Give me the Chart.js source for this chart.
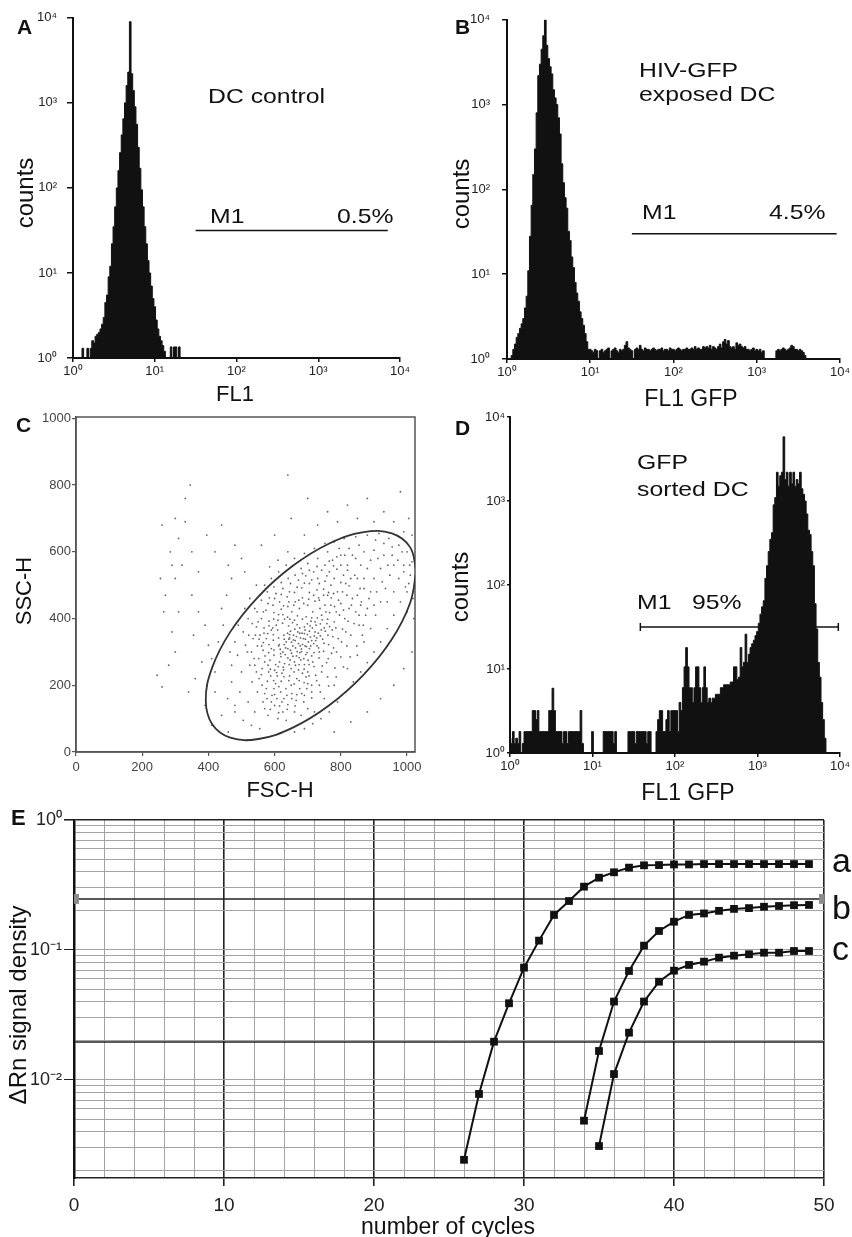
<!DOCTYPE html>
<html>
<head>
<meta charset="utf-8">
<script src="https://cdn.jsdelivr.net/npm/chart.js@4.4.0/dist/chart.umd.min.js"></script>
<style>
  body { margin: 0; background: #fff; }
  #fig { position: relative; width: 852px; height: 1237px; overflow: hidden;
         font-family: "Liberation Sans", Arial, Helvetica, sans-serif; color: #111; }
  #fig canvas { position: absolute; }
  .txt { position: absolute; line-height: 1; white-space: nowrap; }
  .letter { font-weight: bold; font-size: 21px; }
  .note { font-size: 21px; transform-origin: 0 0; transform: scaleX(1.18); }
  .ttl { transform: translate(-50%, -50%); }
  .rot { transform: translate(-50%, -50%) rotate(-90deg); }
  .curve { font-size: 34px; }
</style>
</head>
<body>
<div id="fig">
  <canvas id="chartA" width="426" height="400" style="left:0;top:0"></canvas>
  <canvas id="chartB" width="426" height="400" style="left:426px;top:0"></canvas>
  <canvas id="chartC" width="426" height="400" style="left:0;top:400px"></canvas>
  <canvas id="chartD" width="426" height="400" style="left:426px;top:400px"></canvas>
  <canvas id="chartE" width="852" height="437" style="left:0;top:800px"></canvas>

  <!-- panel A -->
  <div class="txt letter" style="left:17px;top:16px">A</div>
  <div class="txt note" style="left:208px;top:85px">DC control</div>
  <div class="txt note" style="left:210px;top:205px">M1</div>
  <div class="txt note" style="left:337px;top:205px">0.5%</div>
  <div class="txt rot" style="left:25px;top:193px;font-size:24px">counts</div>
  <div class="txt ttl" style="left:235px;top:394px;font-size:22px">FL1</div>

  <!-- panel B -->
  <div class="txt letter" style="left:455px;top:16px">B</div>
  <div class="txt note" style="left:639px;top:59px">HIV-GFP</div>
  <div class="txt note" style="left:639px;top:83px">exposed DC</div>
  <div class="txt note" style="left:642px;top:201px">M1</div>
  <div class="txt note" style="left:769px;top:201px">4.5%</div>
  <div class="txt rot" style="left:461px;top:194px;font-size:24px">counts</div>
  <div class="txt ttl" style="left:691px;top:398px;font-size:23px">FL1 GFP</div>

  <!-- panel C -->
  <div class="txt letter" style="left:16px;top:414px">C</div>
  <div class="txt rot" style="left:24px;top:591px;font-size:22px">SSC-H</div>
  <div class="txt ttl" style="left:280px;top:790px;font-size:22px">FSC-H</div>

  <!-- panel D -->
  <div class="txt letter" style="left:455px;top:417px">D</div>
  <div class="txt note" style="left:637px;top:451px">GFP</div>
  <div class="txt note" style="left:637px;top:478px">sorted DC</div>
  <div class="txt note" style="left:637px;top:591px">M1</div>
  <div class="txt note" style="left:692px;top:591px">95%</div>
  <div class="txt rot" style="left:460px;top:587px;font-size:24px">counts</div>
  <div class="txt ttl" style="left:688px;top:792px;font-size:23px">FL1 GFP</div>

  <!-- panel E -->
  <div class="txt letter" style="left:11px;top:807px;font-size:22px">E</div>
  <div class="txt curve" style="left:832px;top:843px">a</div>
  <div class="txt curve" style="left:832px;top:890px">b</div>
  <div class="txt curve" style="left:832px;top:931px">c</div>
  <div class="txt rot" style="left:18px;top:1005px;font-size:24px">ΔRn signal density</div>
  <div class="txt ttl" style="left:448px;top:1226px;font-size:23px">number of cycles</div>
</div>

<script>
//? DATA
// histograms: counts per bin, bins are BIN decades wide, first bin centre = start
const BIN = 0.02;

const histStartA = 0.10;
const histA = [1, 1.3, 1, 1, 1.3, 1, 1.3, 1.6, 1.5, 1.8,
    1.9, 2, 2.2, 2.5, 3, 4.5, 5.5, 9, 12, 22,
    35, 60, 100, 160, 260, 420, 650, 1000, 1600, 2300,
    9000, 2200, 1400, 900, 560, 300, 170, 95, 60, 35,
    22, 14, 10, 7, 5, 4, 2.8, 2.2, 1.8, 1.6,
    1.4, 1.2, 1, 1, 1, 1.35, 1, 1.35, 1.35, 1,
    1.35, 1];

const histStartB = 0.04;
const histB = [1, 1.1, 1.3, 1.5, 1.8, 2, 2.3, 2.6, 3, 4,
    5.5, 11, 28, 65, 150, 300, 800, 2200, 3000, 4500,
    6500, 10000, 5000, 3500, 2800, 2300, 1500, 1200, 1000, 700,
    450, 200, 120, 80, 60, 32, 25, 16, 12, 8,
    6, 4.8, 3.6, 3, 2.5, 2, 1.6, 1.3,
    1.3, 1.25, 1.2, 1.3, 1.25, 1, 1.25, 1.3, 1.2, 1.25,
    1.3, 1.35, 1, 1.25, 1.3, 1.35, 1.25, 1.2, 1.3, 1.25,
    1.3, 1.45, 1.6, 1.35, 1.3, 1.25, 1, 1.3, 1.35, 1.3,
    1.45, 1.3, 1.25, 1.35, 1.3, 1.3, 1.25, 1.3, 1.35, 1.3,
    1.25, 1.3, 1.3, 1.35, 1.25, 1.3, 1.3, 1.25, 1.35, 1.3,
    1.3, 1.25, 1.3, 1.35, 1.3, 1.25, 1.3, 1.3, 1.35, 1.3,
    1.3, 1.35, 1.3, 1.4, 1.3, 1.35, 1.3, 1.3, 1.4, 1.35,
    1.4, 1.35, 1.45, 1.3, 1.4, 1.35, 1.3, 1.4, 1.5, 1.35,
    1.6, 1.7, 1.5, 1.65, 1.4, 1.35, 1.4, 1.3, 1.55, 1.45,
    1.5, 1.4, 1.35, 1.4, 1.3, 1.3, 1.25, 1.3, 1.35, 1.25,
    1.3, 1.25, 1.3, 1.2, 1.25, 1, 1, 1, 1, 1,
    1, 1, 1.25, 1.3, 1.25, 1.3, 1.35, 1.3, 1.25, 1.3,
    1.35, 1.45, 1.4, 1.3, 1.3, 1.25, 1.3, 1.25, 1.2, 1.1,
    1];

const histStartD = 0.00;
const histD = [1.5, 1.3, 1.8, 1.3, 1.5,  1.3, 1.8, 1, 1.3, 1.8,
    1.8, 1.8, 1.8, 1.8, 3.2,  3.2, 2.5, 3.2, 1.8, 1.8,
    1.8, 1.8, 1.8, 1.8, 3.2,  3.2, 5.9, 3.2, 1.8, 1.8,
    1.8, 1.8, 1.3, 1.8, 1.8,  1.3, 1.8, 1.8, 1.8, 1.8,
    1.8, 1.8, 1.8, 3.2, 1.3,  1, 1, 1, 1, 1,
    1.8, 1, 1, 1, 1,  1, 1, 1.8, 1.8, 1.8,
    1.8, 1.8, 1.8, 1.3, 1.8,  1, 1, 1, 1, 1,
    1, 1, 1.8, 1.8, 1.8,  1.8, 1.3, 1.8, 1.8, 1.8,
    1.8, 1.8, 1.8, 1.3, 1.8,  1.8, 1, 1, 1, 1.8,
    2.5, 3.2, 3.2, 1.8, 1.8,  2.5, 3.2, 1.8, 3.2, 3.2,
    3.2, 3.2, 1.8, 4, 3.2,  6, 10.6, 18, 10.6, 6,
    6, 4, 6, 10.6, 10.6,  6, 4, 6, 10.6, 6,
    4, 4.5, 4, 4.5, 4.5,  5, 5, 5, 6, 6,
    6.5, 6.5, 6.5, 6.5, 7,  7, 10.6, 10.6, 7.5, 8,
    18, 10.6, 12, 26, 12,  15, 18, 20, 22, 25,
    28, 35, 45, 55, 65,  120, 170, 250, 350, 420,
    900, 1100, 2200, 1500, 2000,  2200, 5800, 1800, 2200, 1500,
    2200, 1600, 2200, 1500, 1800,  1600, 2200, 1400, 1200, 1000,
    700, 450, 400, 250, 170,  60, 30, 12, 8, 4,
    2.5, 1.5, 1];

// M1 gates (in decades) and their count level
const m1GateA = [1.5, 3.85];
const m1LevelA = 31.6;
const m1GateB = [1.5, 3.96];
const m1LevelB = 30;
const m1GateD = [1.58, 3.98];
const m1LevelD = 31.6;

// panel C: FSC-H / SSC-H events
const scatterC = [
  [612,318],[645,342],[668,301],[690,355],[702,330],[655,287],[630,265],[676,372],[720,348],[598,290],
  [640,310],[662,334],[684,322],[710,392],[650,250],[625,300],[688,280],[705,310],[670,360],[635,330],
  [600,245],[615,270],[660,395],[695,405],[725,380],[742,410],[580,260],[590,310],[648,362],[678,342],
  [698,298],[718,325],[732,356],[655,318],[640,282],[622,236],[608,228],[672,246],[690,262],[712,288],
  [735,300],[750,372],[760,398],[642,378],[628,350],[612,342],[596,335],[582,298],[570,270],[588,228],
  [603,205],[620,212],[645,228],[667,220],[684,236],[700,240],[660,270],[676,298],[692,318],[708,345],
  [722,360],[738,384],[755,420],[770,440],[745,338],[728,318],[715,270],[695,225],[650,200],[634,190],
  [618,180],[600,172],[575,190],[560,232],[565,305],[575,340],[590,365],[605,380],[630,398],[652,420],
  [675,430],[700,440],[722,452],[690,375],[668,382],[646,398],[625,412],[610,395],[648,305],[663,312],
  [672,325],[687,340],[699,352],[683,356],[657,350],[643,338],[629,322],[617,308],[632,292],[647,276],
  [663,260],[679,276],[694,292],[709,318],[724,334],[738,348],[753,362],[766,376],[780,390],[786,420],
  [771,462],[748,470],[728,486],[705,478],[684,462],[662,450],[640,436],[620,428],[598,418],[583,392],
  [568,372],[556,350],[548,318],[552,280],[562,250],[578,212],[598,190],[628,160],[652,175],[676,190],
  [700,205],[724,230],[744,258],[762,280],[778,312],[792,340],[805,368],[812,400],[800,445],[790,480],
  [770,500],[752,512],[730,520],[705,505],[682,492],[660,478],[638,465],[615,450],[595,440],[574,425],
  [560,400],[545,375],[535,340],[530,300],[540,260],[553,220],[570,175],[590,150],[615,138],[640,142],
  [665,155],[690,170],[712,180],[735,200],[760,225],[782,252],[800,285],[818,318],[830,350],[840,385],
  [845,420],[835,460],[825,498],[808,530],[788,548],[765,540],[742,545],[718,540],[694,528],[672,515],
  [648,505],[625,490],[604,475],[584,462],[657,336],[681,309],[693,338],[666,346],[651,329],[677,318],
  [639,356],[705,362],[619,286],[674,283],[701,275],[627,246],[611,256],[586,275],[596,352],[712,402],
  [603,262],[618,295],[633,312],[651,296],[666,288],[681,301],[696,316],[712,334],[727,342],[741,366],
  [587,248],[606,238],[626,254],[644,262],[659,240],[674,262],[689,248],[704,262],[719,298],[733,312],
  [749,326],[761,350],[774,366],[785,372],[758,385],[744,396],[729,402],[714,372],[699,384],[684,398],
  [669,408],[654,388],[639,404],[624,386],[609,366],[594,372],[579,355],[566,328],[583,322],[598,306],
  [614,322],[629,338],[645,352],[661,368],[676,356],[692,366],[707,378],[722,390],[737,430],[752,440],
  [766,418],[781,436],[796,410],[776,346],[763,322],[748,302],[734,282],[719,256],[704,228],[689,208],
  [674,214],[659,204],[643,214],[628,226],[613,196],[597,214],[582,240],[571,288],[561,318],[553,338],
  [568,356],[583,378],[597,398],[612,412],[627,438],[643,450],[658,440],[673,455],[688,445],[703,458],
  [718,470],[733,462],[748,488],[763,478],[778,475],[793,455],[808,425],[822,392],[815,360],[802,330],
  [787,300],[772,296],[757,268],[742,240],[727,214],[712,200],[697,190],[682,175],[667,172],[652,160],
  [637,170],[622,150],[607,160],[592,170],[577,160],[562,200],[545,240],[538,280],[542,350],[550,390],
  [566,420],[580,445],[600,460],[620,472],[645,480],[668,494],[690,506],[712,516],[735,505],[758,528],
  [780,520],[800,508],[818,470],[832,440],[855,410],[862,450],[858,490],[842,530],[820,545],[800,560],
  [778,558],[752,560],[728,556],[705,545],[684,535],[662,530],[641,520],[620,508],[598,495],[578,480],
  [560,455],[547,420],[532,385],[522,350],[518,300],[525,260],[532,210],[548,180],[565,150],[587,128],
  [612,118],[638,128],[662,138],[688,150],[712,162],[738,180],[763,198],[786,225],[808,255],[828,285],
  [848,318],[868,380],[880,430],[890,480],[870,520],[860,560],[835,590],[812,590],[788,585],[765,572],
  [908,480],[925,510],[942,560],[912,580],[890,575],[955,590],[972,575],[990,540],[1008,560],[1000,480],
  [480,120],[505,95],[530,80],[555,70],[580,110],[610,100],[520,150],[495,180],[470,210],[458,160],
  [500,240],[488,290],[512,320],[505,360],[520,400],[540,430],[555,470],[570,500],[590,520],[612,540],
  [635,560],[660,580],[690,595],[720,610],[752,625],[780,630],[810,640],[845,645],[880,650],[915,655],
  [945,640],[975,620],[1000,600],[1015,570],[1010,530],[995,495],[980,450],[960,410],[940,370],[920,330],
  [900,300],[880,268],[860,240],[838,210],[815,180],[790,150],[765,120],[740,100],[715,85],[690,70],
  [660,60],[635,95],[660,120],[700,130],[750,160],[780,200],[820,250],[850,290],[870,330],[890,370],
  [905,410],[920,450],[935,490],[948,530],[960,560],[930,590],[900,605],[870,600],[845,580],[820,560],
  [800,590],[775,575],[760,600],[730,580],[700,565],[680,550],[850,520],[870,490],[885,460],[900,520],
  [920,550],[880,550],[860,440],[875,410],[855,380],[865,350],[900,440],[940,450],[960,480],[975,520],
  [990,560],[1005,505],[1018,460],[1000,420],[985,600],[955,615],[930,625],[905,635],[825,610],[855,620],
  [795,610],[735,455],[760,470],[715,420],[805,480],[825,430],[850,470],[830,520],[815,505],[470,260],
  [480,330],[465,300],[490,380],[510,430],[525,460],[545,500],[585,555],[610,575],[640,600],[480,140],
  [540,120],[600,140],[570,130],[625,120],[680,110],[720,120],
  [245,230],[260,195],[280,260],[300,300],[290,360],[310,420],[270,470],[255,520],[300,520],[320,560],
  [285,600],[260,680],[300,700],[330,760],[345,800],[310,640],[350,470],[370,420],[390,380],[400,320],
  [380,270],[360,220],[340,180],[395,200],[420,240],[410,280],[430,330],[445,380],[440,430],[455,470],
  [470,520],[460,560],[420,600],[395,650],[440,680],[480,620],[500,580],[510,540],[370,540],[350,600],
  [330,690],[290,560],[265,420],[355,350],[420,180],[390,140],[440,110],[460,60],[410,80],
  [640,830],[700,760],[760,720],[820,740],[880,760],[930,720],[980,780],[1005,700],[960,690],[900,690],
  [850,700],[790,690],[730,680],[690,650],[560,620],[600,650],[650,700],[1015,650],[990,660],[1020,400],
  [1015,300],[990,250],[960,200],[920,160],[880,120],[830,90],[780,60]
];

// gate outline (R1)
const gateFsc = [1028, 1009, 954, 869, 765, 655, 551, 466, 411, 392, 411, 466, 551, 655, 765, 869, 954, 1009, 1028];
const gateSsc = [542, 446, 338, 232, 140, 73, 39, 43, 84, 156, 252, 360, 466, 558, 625, 659, 655, 614, 542];

// panel E: real-time PCR amplification curves
const cyclesA = [26, 27, 28, 29, 30, 31, 32, 33, 34, 35, 36, 37, 38, 39, 40, 41, 42, 43, 44, 45, 46, 47, 48, 49];
const rnA = [0.00243, 0.0078, 0.0197, 0.0389, 0.0731, 0.118, 0.186, 0.238, 0.307, 0.36, 0.396, 0.43,
    0.448, 0.45, 0.455, 0.455, 0.458, 0.458, 0.458, 0.458, 0.458, 0.458, 0.458, 0.458];
const cyclesB = [34, 35, 36, 37, 38, 39, 40, 41, 42, 43, 44, 45, 46, 47, 48, 49];
const rnB = [0.00486, 0.0167, 0.0401, 0.0689, 0.108, 0.14, 0.165, 0.186, 0.191, 0.2, 0.207, 0.21,
    0.215, 0.218, 0.221, 0.222];
const cyclesC = [35, 36, 37, 38, 39, 40, 41, 42, 43, 44, 45, 46, 47, 48, 49];
const rnC = [0.0031, 0.0111, 0.0231, 0.0401, 0.057, 0.0693, 0.0767, 0.0813, 0.0873, 0.0904, 0.0927,
    0.0953, 0.0953, 0.0982, 0.0982];
const thresholdHigh = 0.247;
const thresholdLow = 0.0196;

// axis ticks
const decadeTicks = [0, 1, 2, 3, 4];
const countTicks = [1, 10, 100, 1000, 10000];
const scatterTicks = [0, 200, 400, 600, 800, 1000];


//? HELPERS
Chart.defaults.font.family = '"Liberation Sans", Arial, Helvetica, sans-serif';
Chart.defaults.color = '#222';
Chart.defaults.animation = false;
Chart.defaults.plugins.legend.display = false;
Chart.defaults.plugins.tooltip.enabled = false;

const SUP = { '0': '⁰', '1': '¹', '2': '²', '3': '³', '4': '⁴', '-': '⁻' };
function pow10Label(exp) {
    return '10' + String(exp).split('').map(c => SUP[c]).join('');
}
function isPow10(v) {
    const l = Math.log10(v);
    return Math.abs(l - Math.round(l)) < 1e-9;
}
function histPoints(start, counts) {
    return counts.map((c, i) => ({ x: start + i * BIN, y: c }));
}

// g = geometry of the panel: top pad, right pad, y axis width, x axis height, tick sizes
function makeHistogram(id, start, counts, gate, level, g) {
    const gateSet = {
        data: gate.map(x => ({ x: x, y: level })),
        borderColor: '#111',
        borderWidth: 1.5,
        pointRadius: g.caps ? 4 : 0,
        pointStyle: 'line',
        rotation: 90,
        pointBorderColor: '#111',
        pointBorderWidth: 1.5,
        fill: false
    };
    return new Chart(document.getElementById(id), {
        type: 'line',
        data: {
            datasets: [gateSet, {
                data: histPoints(start, counts),
                stepped: 'middle',
                fill: 'start',
                backgroundColor: '#111',
                borderColor: '#111',
                borderWidth: 1,
                pointRadius: 0
            }]
        },
        options: {
            responsive: false,
            layout: { padding: { left: 0, top: g.top, right: g.right, bottom: 0 } },
            scales: {
                x: {
                    type: 'linear', min: 0, max: 4,
                    afterBuildTicks: s => { s.ticks = decadeTicks.map(v => ({ value: v })); },
                    afterFit: s => { s.height = g.xh; },
                    ticks: { autoSkip: false, maxRotation: 0, padding: 2, font: { size: 13 }, callback: v => pow10Label(v) },
                    grid: { drawOnChartArea: false, tickLength: 4, color: '#111', lineWidth: 1.5 },
                    border: { color: '#111', width: 2 }
                },
                y: {
                    type: 'logarithmic', min: 1, max: 10000,
                    afterBuildTicks: s => { s.ticks = countTicks.map(v => ({ value: v })); },
                    afterFit: s => { s.width = g.yw; },
                    ticks: { autoSkip: false, padding: g.ypad, font: { size: 13 }, callback: v => pow10Label(Math.round(Math.log10(v))) },
                    grid: { drawOnChartArea: false, tickLength: g.ytick, color: '#111', lineWidth: 1.5 },
                    border: { color: '#111', width: 2 }
                }
            }
        }
    });
}

//? PANELS A, B, D
makeHistogram('chartA', histStartA, histA, m1GateA, m1LevelA, { top: 15, right: 26, yw: 73, xh: 42, ypad: 10, ytick: 6 });
makeHistogram('chartB', histStartB, histB, m1GateB, m1LevelB, { top: 15, right: 11, yw: 81, xh: 41, ypad: 12, ytick: 5 });
makeHistogram('chartD', histStartD, histD, m1GateD, m1LevelD, { top: 17, right: 12, yw: 84, xh: 47, ypad: 2, ytick: 3, caps: true });

//? PANEL C
const framePlugin = {
    id: 'frame',
    beforeDatasetsDraw(chart) {
        const { ctx, chartArea: a } = chart;
        ctx.save();
        ctx.strokeStyle = '#555';
        ctx.lineWidth = 1.5;
        ctx.strokeRect(a.left, a.top, a.right - a.left, a.bottom - a.top);
        ctx.restore();
    }
};

new Chart(document.getElementById('chartC'), {
    type: 'scatter',
    data: {
        datasets: [{
            type: 'line',
            data: gateFsc.map((x, i) => ({ x: x, y: gateSsc[i] })),
            borderColor: '#333',
            borderWidth: 1.8,
            pointRadius: 0,
            tension: 0.4,
            fill: false
        }, {
            data: scatterC.map(p => ({ x: p[0], y: p[1] })),
            pointRadius: 0.9,
            backgroundColor: 'rgba(35,35,35,0.7)',
            borderWidth: 0
        }]
    },
    options: {
        responsive: false,
        layout: { padding: { left: 0, top: 17, right: 11, bottom: 0 } },
        scales: {
            x: {
                type: 'linear', min: 0, max: 1024,
                afterBuildTicks: s => { s.ticks = scatterTicks.map(v => ({ value: v })); },
                afterFit: s => { s.height = 48; },
                ticks: { autoSkip: false, maxRotation: 0, padding: 4, color: '#444', font: { size: 13 }, callback: v => String(v) },
                grid: { drawOnChartArea: false, tickLength: 4, color: '#555', lineWidth: 1.2 },
                border: { color: '#555', width: 1.5 }
            },
            y: {
                type: 'linear', min: 0, max: 1004,
                afterBuildTicks: s => { s.ticks = scatterTicks.map(v => ({ value: v })); },
                afterFit: s => { s.width = 76; },
                ticks: { autoSkip: false, padding: 1, color: '#444', font: { size: 13 }, callback: v => String(v) },
                grid: { drawOnChartArea: false, tickLength: 4, color: '#555', lineWidth: 1.2 },
                border: { color: '#555', width: 1.5 }
            }
        }
    },
    plugins: [framePlugin]
});

//? PANEL E
const cycleGrid = [];
for (let c = 0; c <= 50; c += 2) cycleGrid.push(c);
const rnGrid = [];
for (let e = -3; e <= -1; e++) {
    for (let m = 1; m <= 9; m++) {
        const v = m * Math.pow(10, e);
        if (v >= 0.00176) rnGrid.push(v);
    }
}
rnGrid.push(1);

function pcrSeries(cycles, values) {
    return {
        data: cycles.map((c, i) => ({ x: c, y: values[i] })),
        borderColor: '#111',
        borderWidth: 2,
        pointStyle: 'rect',
        pointRadius: 5.5,
        pointBackgroundColor: '#111',
        pointBorderColor: '#111',
        pointBorderWidth: 0,
        tension: 0,
        fill: false
    };
}

new Chart(document.getElementById('chartE'), {
    type: 'line',
    data: {
        datasets: [
            pcrSeries(cyclesA, rnA),
            pcrSeries(cyclesB, rnB),
            pcrSeries(cyclesC, rnC),
            {
                data: [{ x: 0, y: thresholdHigh }, { x: 50, y: thresholdHigh }],
                borderColor: '#222', borderWidth: 1.6,
                pointStyle: 'rect', pointRadius: 7,
                pointBackgroundColor: '#8a8a8a', pointBorderWidth: 0
            },
            {
                data: [{ x: 0, y: thresholdLow }, { x: 50, y: thresholdLow }],
                borderColor: '#222', borderWidth: 1.6, pointRadius: 0
            }
        ]
    },
    options: {
        responsive: false,
        layout: { padding: { left: 0, top: 20, right: 28, bottom: 0 } },
        scales: {
            x: {
                type: 'linear', min: 0, max: 50,
                afterBuildTicks: s => { s.ticks = cycleGrid.map(v => ({ value: v })); },
                afterFit: s => { s.height = 59; },
                ticks: { autoSkip: false, maxRotation: 0, padding: 8, font: { size: 19 },
                    callback: v => (v % 10 === 0 ? String(v) : '') },
                grid: {
                    tickLength: 8,
                    color: ctx => (ctx.tick && ctx.tick.value % 10 === 0 ? '#222' : '#a3a3a3'),
                    lineWidth: ctx => (ctx.tick && ctx.tick.value % 10 === 0 ? 1.6 : 1),
                    tickColor: ctx => (ctx.tick && ctx.tick.value % 10 === 0 ? '#222' : 'rgba(0,0,0,0)')
                },
                border: { color: '#222', width: 1.6 }
            },
            y: {
                type: 'logarithmic', min: 0.00176, max: 1,
                afterBuildTicks: s => { s.ticks = rnGrid.map(v => ({ value: v })); },
                afterFit: s => { s.width = 74; },
                ticks: { autoSkip: false, padding: 2, font: { size: 18 },
                    callback: v => (isPow10(v) ? pow10Label(Math.round(Math.log10(v))) : '') },
                grid: {
                    tickLength: 10,
                    color: ctx => (ctx.tick && ctx.tick.value === 1 ? '#222' : '#a3a3a3'),
                    lineWidth: ctx => (ctx.tick && ctx.tick.value === 1 ? 1.6 : 1),
                    tickColor: ctx => (ctx.tick && isPow10(ctx.tick.value) ? '#222' : 'rgba(0,0,0,0)')
                },
                border: { color: '#111', width: 2.5 }
            }
        }
    }
});
</script>
</body>
</html>
